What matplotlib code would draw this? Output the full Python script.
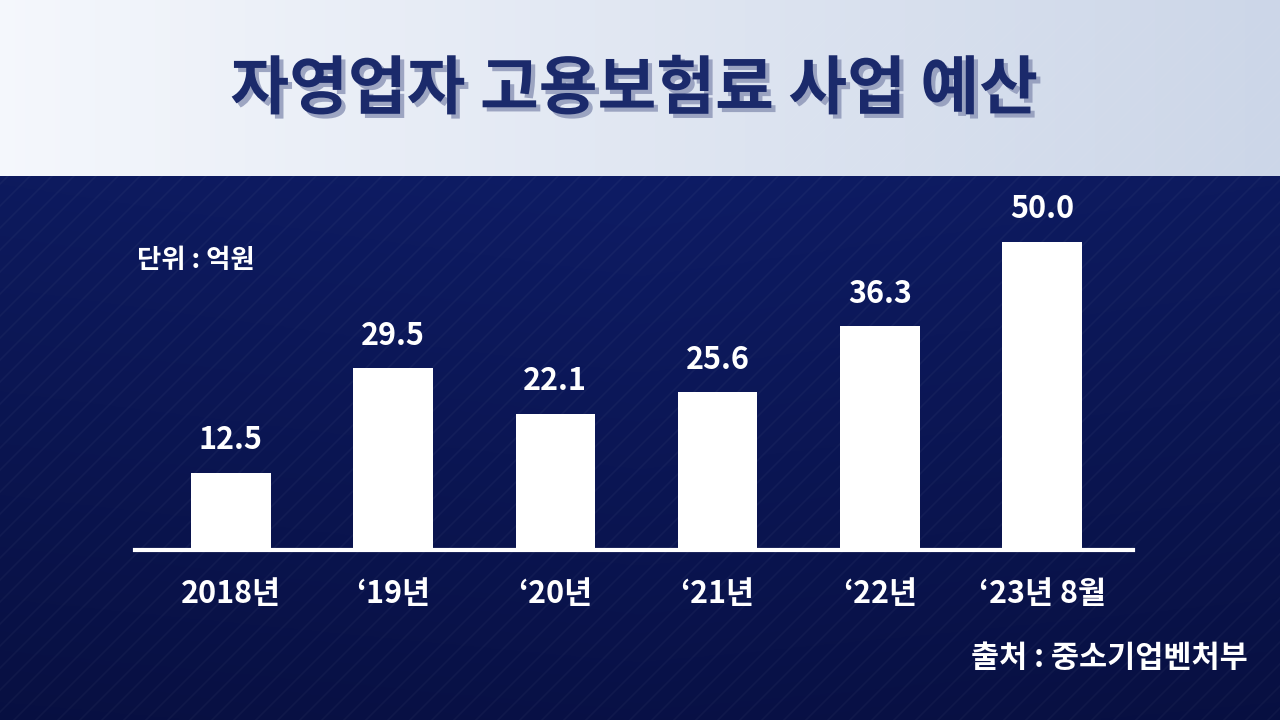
import matplotlib
matplotlib.use("Agg")
import matplotlib.pyplot as plt
import matplotlib.patheffects as pe
import numpy as np

categories = ["2018년", "‘19년", "‘20년", "‘21년", "‘22년", "‘23년 8월"]
values = [12.5, 29.5, 22.1, 25.6, 36.3, 50.0]
title = "자영업자 고용보험료 사업 예산"
unit = "단위 : 억원"
source = "출처 : 중소기업벤처부"

plt.rcParams['font.family'] = ['Noto Sans CJK KR', 'DejaVu Sans']
W, H = 1280, 720
fig = plt.figure(figsize=(12.8, 7.2), dpi=100)

# background
bg = fig.add_axes([0, 0, 1, 1]); bg.set_axis_off()
bg.set_xlim(0, W); bg.set_ylim(H, 0)
xx = np.linspace(0, 1, 256)
top = np.zeros((10, 256, 3))
c1 = np.array([0.96, 0.97, 0.99]); c2 = np.array([0.80, 0.84, 0.91])
for i in range(3):
    top[:, :, i] = c1[i] + (c2[i] - c1[i]) * xx
bg.imshow(top, extent=[0, W, 176, 0], aspect='auto', zorder=0)
yy = np.linspace(0, 1, 200)[:, None]
bot = np.zeros((200, 256, 3))
d1 = np.array([0.05, 0.10, 0.36]); d2 = np.array([0.03, 0.06, 0.25])
ctr = 1 - np.abs(xx[None, :] - 0.5) * 0.6
for i in range(3):
    bot[:, :, i] = (d1[i] + (d2[i] - d1[i]) * yy) * (0.85 + 0.25 * ctr)
bg.imshow(np.clip(bot, 0, 1), extent=[0, W, H, 176], aspect='auto', zorder=0)
for k in range(-800, 1400, 22):
    bg.plot([k, k + 700], [H, H - 700], color='white', alpha=0.035, lw=1.2, zorder=1)
bg.set_xlim(0, W); bg.set_ylim(H, 0)

bg.text(634, 90, title, ha='center', va='center', fontsize=46, fontweight='bold',
        color='#1b2a6b', zorder=3,
        path_effects=[pe.withSimplePatchShadow(offset=(3, -3), shadow_rgbFace='#8a93b5', alpha=0.8)])
bg.text(137, 260, unit, ha='left', va='center', fontsize=19, fontweight='bold', color='white', zorder=3)
bg.text(1248, 658, source, ha='right', va='center', fontsize=22, fontweight='bold', color='white', zorder=3)

# chart
ax = fig.add_axes([135 / W, (H - 550) / H, (1133 - 135) / W, 375 / H])
ax.patch.set_alpha(0)
x = np.arange(len(values))
ax.bar(x, values, width=0.49, color='white', zorder=2)
ax.set_xlim(-0.59, 5.56)
ax.set_ylim(0, 375 / 6.16)
for s in ['top', 'right', 'left']:
    ax.spines[s].set_visible(False)
ax.spines['bottom'].set_color('white'); ax.spines['bottom'].set_linewidth(3)
ax.set_yticks([])
ax.set_xticks(x)
ax.set_xticklabels(categories, fontsize=22, fontweight='bold', color='white')
ax.tick_params(axis='x', length=0, pad=20)
for xi, v in zip(x, values):
    ax.annotate(f"{v:.1f}", (xi, v), xytext=(0, 12), textcoords='offset points',
                ha='center', va='bottom', fontsize=22, fontweight='bold', color='white')

fig.savefig("out.png", dpi=100)
